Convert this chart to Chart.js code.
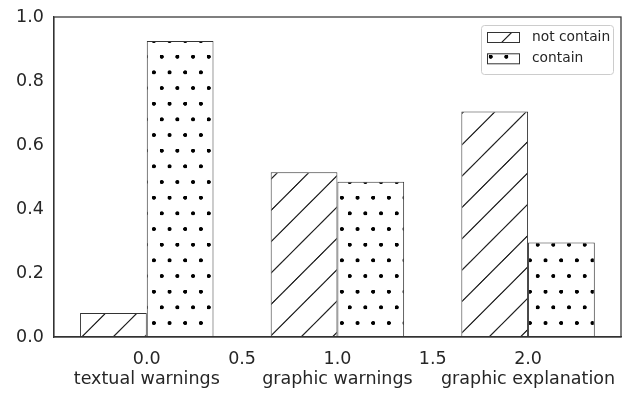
<!DOCTYPE html>
<html><head><meta charset="utf-8">
<script src="https://cdn.jsdelivr.net/npm/chart.js@4/dist/chart.umd.min.js"></script>
<style>html,body{margin:0;padding:0;background:#fff;}</style>
</head><body>
<canvas id="c" width="624" height="395"></canvas>
<script>
// ---- data ----
const categories = ['textual warnings', 'graphic warnings', 'graphic explanation'];
const categoryPositions = [0, 1, 2];
const seriesNames = ['not contain', 'contain'];
const notContain = [0.075, 0.515, 0.705];
const contain = [0.925, 0.485, 0.295];
const xTickValues = [0, 0.5, 1, 1.5, 2];
const xTickLabels = ['0.0', '0.5', '1.0', '1.5', '2.0'];
const yTickValues = [0, 0.2, 0.4, 0.6, 0.8, 1.0];
const yTickLabels = ['0.0', '0.2', '0.4', '0.6', '0.8', '1.0'];

// ---- patterns ----
const HATCH_PERIOD = 31.33;
function makePattern(drawTile, period, tx, ty) {
  const S = 64;
  const tile = document.createElement('canvas');
  tile.width = S; tile.height = S;
  const t = tile.getContext('2d');
  t.scale(S / period, S / period);
  drawTile(t, period);
  const ctx = document.createElement('canvas').getContext('2d');
  const pat = ctx.createPattern(tile, 'repeat');
  pat.setTransform(new DOMMatrix().translate(tx, ty).scale(period / S));
  return pat;
}
const hatchPattern = makePattern((t, P) => {
  t.fillStyle = '#ffffff'; t.fillRect(0, 0, P, P);
  t.strokeStyle = '#222222'; t.lineWidth = 1.25; t.lineCap = 'butt';
  [0, P, 2 * P].forEach(c => {
    t.beginPath(); t.moveTo(-P, c + P); t.lineTo(c + P, -P); t.stroke();
  });
}, HATCH_PERIOD, 0, 606.7 % HATCH_PERIOD);
const dotPattern = makePattern((t, P) => {
  t.fillStyle = '#ffffff'; t.fillRect(0, 0, P, P);
  t.fillStyle = '#000000';
  const pts = [[0, 0], [P / 2, 0], [P / 4, P / 2], [3 * P / 4, P / 2]];
  pts.forEach(([x, y]) => {
    for (let dx = -1; dx <= 1; dx++) for (let dy = -1; dy <= 1; dy++) {
      t.beginPath(); t.arc(x + dx * P, y + dy * P, 2.0, 0, Math.PI * 2); t.fill();
    }
  });
}, HATCH_PERIOD, 161.7 % (HATCH_PERIOD / 2), 56.7 % HATCH_PERIOD);
const seriesPatterns = [hatchPattern, dotPattern];

// ---- plugins ----
const framePlugin = {
  id: 'frame',
  afterDraw(chart) {
    const {ctx, chartArea: a} = chart;
    ctx.save();
    ctx.strokeStyle = '#333333'; ctx.lineWidth = 1.25;
    ctx.strokeRect(a.left, a.top, a.right - a.left, a.bottom - a.top);
    ctx.restore();
  }
};
const boxLegend = {
  id: 'boxLegend',
  afterDraw(chart) {
    const {ctx, chartArea: a} = chart;
    const bw = 132, bh = 49;
    const bx = a.right - 8 - bw, by = a.top + 8;
    ctx.save();
    ctx.beginPath(); ctx.roundRect(bx + 0.5, by + 0.5, bw, bh, 3);
    ctx.fillStyle = 'rgba(255,255,255,0.85)'; ctx.fill();
    ctx.strokeStyle = '#cccccc'; ctx.lineWidth = 1; ctx.stroke();
    ctx.font = '13.8px "DejaVu Sans"';
    ctx.textBaseline = 'middle'; ctx.textAlign = 'left';
    chart.data.datasets.forEach((ds, i) => {
      const cy = by + 12 + i * 21.3;
      ctx.fillStyle = ds.backgroundColor;
      ctx.fillRect(bx + 6, cy - 5, 32, 10);
      ctx.strokeStyle = '#333333'; ctx.lineWidth = 1;
      ctx.strokeRect(bx + 6.5, cy - 4.5, 32, 10);
      ctx.fillStyle = '#262626';
      ctx.fillText(ds.label, bx + 51, cy);
    });
    ctx.restore();
  }
};

Chart.defaults.font.family = '"DejaVu Sans"';
Chart.defaults.color = '#262626';

const BAR_WIDTH = 0.35, TICK_STEP = 0.5;
new Chart(document.getElementById('c'), {
  type: 'bar',
  data: {
    datasets: [notContain, contain].map((vals, s) => ({
      label: seriesNames[s],
      data: categoryPositions.map((x, i) => ({x: x, y: vals[i]})),
      backgroundColor: seriesPatterns[s],
      borderColor: '#333333',
      borderWidth: 1,
      borderSkipped: false,
      barPercentage: 1,
      categoryPercentage: 2 * BAR_WIDTH / TICK_STEP
    }))
  },
  options: {
    responsive: false,
    animation: false,
    devicePixelRatio: 1,
    layout: {padding: {left: 6, right: 3, top: 17, bottom: 0}},
    plugins: {legend: {display: false}, tooltip: {enabled: false}},
    scales: {
      x: {
        type: 'linear', min: -0.4875, max: 2.4875, offset: false,
        afterBuildTicks: axis => { axis.ticks = xTickValues.map(v => ({value: v})); },
        afterFit: axis => { axis.height = 58; axis.paddingLeft = 0; axis.paddingRight = 0; },
        grid: {display: false, drawTicks: false},
        border: {display: true, color: '#333333', width: 1.25},
        ticks: {
          padding: 13, maxRotation: 0, autoSkip: false,
          font: {size: 17.5, lineHeight: 1.12},
          callback: (v) => {
            const i = xTickValues.indexOf(v);
            const lbl = xTickLabels[i];
            const c = categoryPositions.indexOf(v);
            return c >= 0 ? [lbl, categories[c]] : lbl;
          }
        }
      },
      y: {
        min: 0, max: 1,
        afterBuildTicks: axis => { axis.ticks = yTickValues.map(v => ({value: v})); },
        afterFit: axis => { axis.paddingTop = 0; axis.paddingBottom = 0; },
        grid: {display: false, drawTicks: false},
        border: {display: true, color: '#333333', width: 1.25},
        ticks: {
          padding: 10, font: {size: 17.5},
          callback: (v) => yTickLabels[yTickValues.indexOf(v)]
        }
      }
    }
  },
  plugins: [framePlugin, boxLegend]
});
</script>
</body></html>
